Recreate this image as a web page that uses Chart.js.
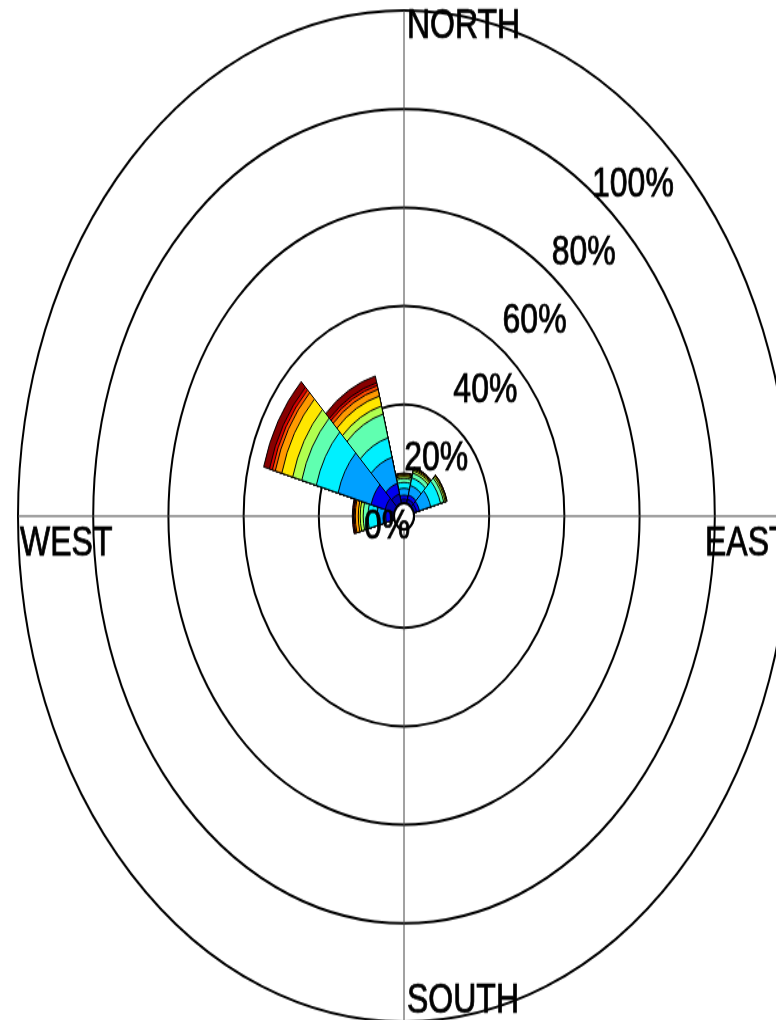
<!DOCTYPE html>
<html>
<head>
<meta charset="utf-8">
<script src="https://cdn.jsdelivr.net/npm/chart.js@4/dist/chart.umd.min.js"></script>
<style>
body{margin:0;background:#fff}
#wrap{width:776px;height:1020px;overflow:hidden}
#rose{transform:scaleY(1.31);transform-origin:0 0}
</style>
</head>
<body>
<div id="wrap"><canvas id="rose" width="800" height="790"></canvas></div>
<script>

// 12 sectors of 30 deg, clockwise from north
const sectors=['N','30','60','E','120','150','S','210','240','W','300','330']
const tickPct=[0,20,40,60,80,100]

// % of time in each speed class, per sector (inner class first)
const speed1=[0.8,0.9,0.8,0,0,0,0,0,0,1.0,2.5,2.0]
const speed2=[0.8,0.9,0.8,0,0,0,0,0,0,1.2,3.9,2.2]
const speed3=[1.4,2.0,3.1,0,0,0,0,0,0,2.3,9.1,5.5]
const speed4=[1.2,1.6,2.7,0,0,0,0,0,0,2.4,6.0,4.1]
const speed5=[0.8,1.0,0.9,0,0,0,0,0,0,1.3,4.0,5.0]
const speed6=[0.4,0.5,0.4,0,0,0,0,0,0,0.8,2.5,1.7]
const speed7=[0.3,0.3,0.3,0,0,0,0,0,0,0.5,3.0,2.1]
const speed8=[0.2,0.2,0.1,0,0,0,0,0,0,0.8,1.8,1.4]
const speed9=[0.1,0.1,0.05,0,0,0,0,0,0,0.3,0.8,0.8]
const speed10=[0.05,0.05,0.05,0,0,0,0,0,0,0.2,0.8,0.6]
const speed11=[0.05,0.05,0,0,0,0,0,0,0,0.3,1.6,1.4]

const classes=[speed1,speed2,speed3,speed4,speed5,speed6,speed7,speed8,speed9,speed10,speed11]
const colors=['#0000b4','#0000f0','#00a0ff','#00f0ff','#60ffb0','#b0ff50','#ffe600','#ff9a00','#ff4a00','#d80000','#880000']

// stacked look: each dataset is the running total, first dataset drawn on top
let running=sectors.map(()=>0)
let datasets=[]
classes.forEach((c,k)=>{
running=running.map((v,i)=>v+c[i])
datasets.push({
data:running.slice(),
backgroundColor:colors[k],
borderColor:'#000',
borderWidth:1
})
})

const FONT='32px "Liberation Sans", Arial, sans-serif'

function label(ctx,txt,x,y){
ctx.fillText(txt,x,y)
ctx.strokeText(txt,x,y)
}

const roseDeco={
id:'roseDeco',
beforeDatasetsDraw(chart){
const s=chart.scales.r, ctx=chart.ctx, R=s.drawingArea
ctx.save()
ctx.strokeStyle='#444'
ctx.lineWidth=1
ctx.beginPath()
ctx.moveTo(s.xCenter,s.yCenter-R)
ctx.lineTo(s.xCenter,s.yCenter+R)
ctx.moveTo(s.xCenter-R,s.yCenter)
ctx.lineTo(s.xCenter+R,s.yCenter)
ctx.stroke()
ctx.restore()
},
afterDatasetsDraw(chart){
// calm hole in the middle
const s=chart.scales.r, ctx=chart.ctx
const r0=s.getDistanceFromCenterForValue(0)
ctx.save()
ctx.fillStyle='#fff'
ctx.strokeStyle='#000'
ctx.lineWidth=2
ctx.beginPath()
ctx.arc(s.xCenter,s.yCenter,r0,0,Math.PI*2)
ctx.fill()
ctx.stroke()
ctx.restore()
},
afterDraw(chart){
const s=chart.scales.r, ctx=chart.ctx, R=s.drawingArea
const xc=s.xCenter, yc=s.yCenter
ctx.save()
ctx.fillStyle='#000'
ctx.strokeStyle='#000'
ctx.lineWidth=0.7
ctx.font=FONT
ctx.textAlign='left'
ctx.textBaseline='alphabetic'
label(ctx,'NORTH',xc+3,yc-R+20.5)
label(ctx,'SOUTH',xc+3,yc+R-7.5)
label(ctx,'WEST',xc-R+2,yc+29.7)
label(ctx,'EAST',xc+R-85,yc+29.7)
ctx.textAlign='center'
ctx.textBaseline='middle'
tickPct.forEach(v=>{
const r=s.getDistanceFromCenterForValue(v)
label(ctx,v+'%',xc+0.654*r-23.5,yc+15.4-0.696*r)
})
ctx.restore()
}
}

new Chart(document.getElementById('rose'),{
type:'polarArea',
data:{labels:sectors,datasets:datasets},
options:{
responsive:false,
animation:false,
layout:{padding:{left:18,top:8,right:10,bottom:10}},
plugins:{legend:{display:false},tooltip:{enabled:false}},
scales:{
r:{
min:-2.65,
max:100,
startAngle:-15,
ticks:{display:false,z:1},
grid:{color:'#000',lineWidth:2,circular:true},
angleLines:{display:false},
pointLabels:{display:false},
afterBuildTicks(scale){
scale.ticks=tickPct.map(v=>({value:v}))
}
}
}
},
plugins:[roseDeco]
})

</script>
</body>
</html>
